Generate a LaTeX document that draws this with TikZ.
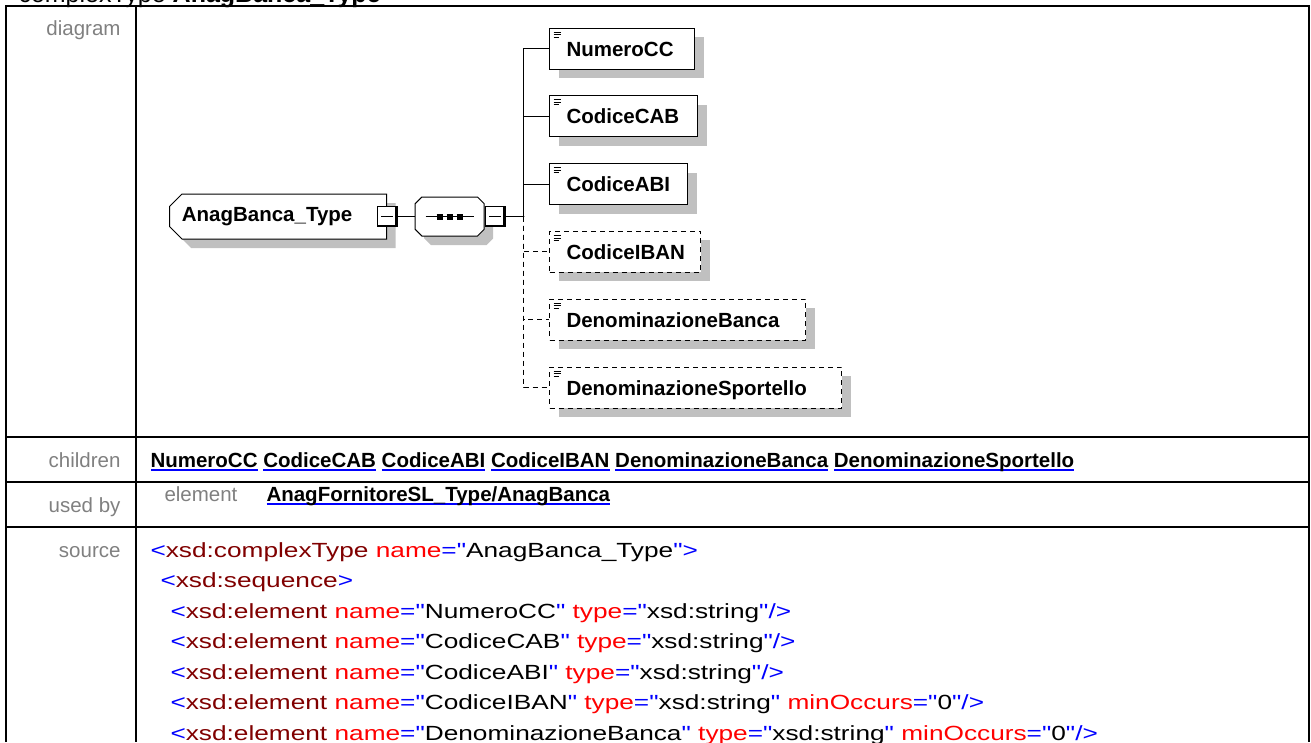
\documentclass[tikz,border=0pt]{standalone}
\usepackage{fontspec}
\setmainfont{Liberation Sans}
\newfontfamily\srcfont{Liberation Sans}[FakeStretch=1.28]
\usetikzlibrary{positioning, shapes.misc, shadows}
\definecolor{labelgray}{HTML}{808080}
\definecolor{linkblue}{HTML}{0000FF}
\definecolor{tagred}{HTML}{800000}
\definecolor{attrred}{HTML}{FF0000}
\definecolor{shadowgray}{HTML}{C0C0C0}
\newsavebox\lnkbox
\newcommand{\lnk}[1]{\sbox\lnkbox{\bfseries #1}\textcolor{linkblue}{\rlap{\rule[-3.5pt]{\wd\lnkbox}{1.6pt}}\usebox\lnkbox}}
\newcommand{\xtag}[1]{\textcolor{linkblue}{<}\textcolor{tagred}{#1}}
\newcommand{\xatt}[2]{\textcolor{attrred}{#1}\textcolor{linkblue}{="}#2\textcolor{linkblue}{"}}
\newcommand{\xclose}{\textcolor{linkblue}{>}}
\newcommand{\xempty}{\textcolor{linkblue}{/>}}

\begin{document}
\begin{tikzpicture}[x=1pt, y=-1pt, line width=1pt,
  font=\fontsize{20.5}{24}\selectfont,
  tableline/.style={line width=2pt},
  rowlabel/.style={text=labelgray, anchor=base east, inner sep=0pt},
  rowtext/.style={anchor=base west, inner sep=0pt},
  srcline/.style={rowtext, font=\srcfont\fontsize{20.5}{24}\selectfont},
  boxshadow/.style={drop shadow={shadow xshift=9pt, shadow yshift=-9pt, fill=shadowgray, opacity=1}},
  optional/.style={dash pattern=on 5pt off 4pt},
  elem/.style={draw, fill=white, boxshadow, anchor=west, minimum height=41pt,
    inner xsep=17pt, inner ysep=0pt, align=left, text height=15pt, text depth=0pt,
    font=\fontsize{20.5}{24}\selectfont\bfseries,
    path picture={
      \draw[solid, line width=0.8pt]
        ([shift={(4pt,-4pt)}]path picture bounding box.north west) -- ++(7pt,0pt)
        ([shift={(4pt,-6.5pt)}]path picture bounding box.north west) -- ++(7pt,0pt)
        ([shift={(4pt,-9pt)}]path picture bounding box.north west) -- ++(5pt,0pt);}},
  minusbox/.style={draw, fill=white, minimum size=20pt, inner sep=0pt,
    path picture={
      \draw[line width=4pt] (path picture bounding box.north east)
        -- (path picture bounding box.south east) -- (path picture bounding box.south west);
      \draw ([xshift=-6pt]path picture bounding box.center) -- ([xshift=6pt]path picture bounding box.center);}}
  ]
\useasboundingbox (0,0) rectangle (1311,742);

% table frame
\draw[tableline] (6,742) -- (6,6) -- (1309,6) -- (1309,742);
\draw[tableline] (136,6) -- (136,742);
\foreach \y in {437,482,527}
  \draw[tableline] (6,\y) -- (1309,\y);

\node[rowtext, font=\fontsize{25}{30}\selectfont] (title) at (18,2) {complexType \textbf{AnagBanca\_Type}};

% diagram
\node[chamfered rectangle, chamfered rectangle corners={north west,south west},
  chamfered rectangle xsep=9pt, draw, fill=white, boxshadow,
  minimum width=217pt, minimum height=45pt, anchor=west,
  font=\fontsize{20.5}{24}\selectfont\bfseries] (anag) at (169,216.5) {AnagBanca\_Type\hspace*{22pt}};
\node[minusbox] (anagminus) at (anag.east) {};
\node[chamfered rectangle, chamfered rectangle xsep=10pt, draw, fill=white, boxshadow,
  minimum width=69pt, minimum height=39pt, right=17pt of anagminus,
  path picture={
    \draw ([xshift=-24pt]path picture bounding box.center) -- ([xshift=24pt]path picture bounding box.center);
    \draw[line width=6pt, dash pattern=on 6pt off 4pt]
      ([xshift=-13pt]path picture bounding box.center) -- ([xshift=13pt]path picture bounding box.center);}] (seq) {};
\node[minusbox, right=0pt of seq] (seqminus) {};
\draw (anagminus) -- (seq);

\foreach \n/\w/\d [count=\i from 0, evaluate=\w as \tw using \w-34] in
  {NumeroCC/145/solid, CodiceCAB/148/solid, CodiceABI/138/solid,
   CodiceIBAN/151/optional, DenominazioneBanca/256/optional, DenominazioneSportello/292/optional}
{
  \node[elem, \d, text width=\tw pt] (\n) at (549,{48.5+67.8*\i}) {\n};
  \draw[\d] (seqminus.east) -- ++(18,0) |- (\n.west);
}

% rows
\node[rowlabel] (diagramlbl) at (121,35) {diagram};
\node[rowlabel] (childrenlbl) at (121,467) {children};
\node[rowtext] (childlinks) at (150,467) {\lnk{NumeroCC} \lnk{CodiceCAB} \lnk{CodiceABI} \lnk{CodiceIBAN} \lnk{DenominazioneBanca} \lnk{DenominazioneSportello}};
\node[rowlabel] (usedbylbl) at (121,512) {used by};
\node[rowtext, text=labelgray] (usedkind) at (164,501) {element};
\node[rowtext] (usedlink) at (266,501) {\lnk{AnagFornitoreSL\_Type/AnagBanca}};
\node[rowlabel] (sourcelbl) at (121,557) {source};

\node[srcline] (src1) at (150,557) {\xtag{xsd:complexType} \xatt{name}{AnagBanca\_Type}\xclose};
\node[srcline] (src2) at (160,587.5) {\xtag{xsd:sequence}\xclose};
\node[srcline] (src3) at (170,618) {\xtag{xsd:element} \xatt{name}{NumeroCC} \xatt{type}{xsd:string}\xempty};
\node[srcline] (src4) at (170,648.5) {\xtag{xsd:element} \xatt{name}{CodiceCAB} \xatt{type}{xsd:string}\xempty};
\node[srcline] (src5) at (170,679) {\xtag{xsd:element} \xatt{name}{CodiceABI} \xatt{type}{xsd:string}\xempty};
\node[srcline] (src6) at (170,709.5) {\xtag{xsd:element} \xatt{name}{CodiceIBAN} \xatt{type}{xsd:string} \xatt{minOccurs}{0}\xempty};
\node[srcline] (src7) at (170,740) {\xtag{xsd:element} \xatt{name}{DenominazioneBanca} \xatt{type}{xsd:string} \xatt{minOccurs}{0}\xempty};
\end{tikzpicture}
\end{document}
